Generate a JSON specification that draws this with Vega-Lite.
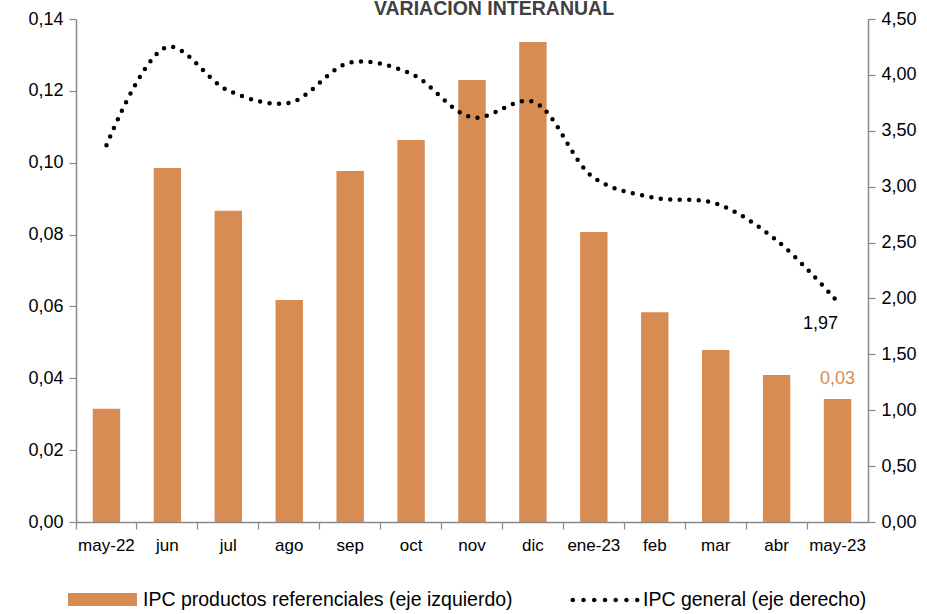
{
  "$schema": "https://vega.github.io/schema/vega-lite/v6.json",
  "autosize": {"type": "none"},
  "padding": {"left": 76, "top": 19, "right": 59, "bottom": 92},
  "width": 792,
  "height": 503,
  "background": "white",
  "config": {
    "view": {"stroke": null},
    "locale": {"number": {"decimal": ",", "thousands": ".", "grouping": [3], "currency": ["", ""]}},
    "font": "Liberation Sans"
  },
  "title": {
    "text": "VARIACION INTERANUAL",
    "font": "Liberation Sans",
    "fontSize": 19.5,
    "fontWeight": "bold",
    "color": "#404040",
    "anchor": "middle",
    "dx": 22,
    "dy": 13,
    "offset": 4
  },
  "data": {
    "values": [
      {"mes": "may-22", "ref": 0.0315, "gen": 3.37},
      {"mes": "jun", "ref": 0.0985, "gen": 4.25},
      {"mes": "jul", "ref": 0.0866, "gen": 3.86},
      {"mes": "ago", "ref": 0.0618, "gen": 3.75},
      {"mes": "sep", "ref": 0.0977, "gen": 4.11},
      {"mes": "oct", "ref": 0.1063, "gen": 4.01},
      {"mes": "nov", "ref": 0.1230, "gen": 3.62},
      {"mes": "dic", "ref": 0.1336, "gen": 3.76},
      {"mes": "ene-23", "ref": 0.0807, "gen": 3.08},
      {"mes": "feb", "ref": 0.0584, "gen": 2.90},
      {"mes": "mar", "ref": 0.0479, "gen": 2.85},
      {"mes": "abr", "ref": 0.0409, "gen": 2.52},
      {"mes": "may-23", "ref": 0.0342, "gen": 1.97}
    ]
  },
  "encoding": {
    "x": {
      "field": "mes",
      "type": "ordinal",
      "sort": null,
      "scale": {"paddingInner": 0.55, "paddingOuter": 0.275},
      "axis": {
        "title": null,
        "labelAngle": 0,
        "labelFontSize": 17,
        "labelColor": "#000000",
        "labelPadding": 8,
        "domainColor": "#898989",
        "domainWidth": 1.5,
        "tickColor": "#898989",
        "tickWidth": 1.2,
        "tickSize": 7,
        "bandPosition": -0.611
      }
    }
  },
  "layer": [
    {
      "mark": {"type": "bar", "color": "#D68C52"},
      "encoding": {
        "y": {
          "field": "ref",
          "type": "quantitative",
          "scale": {"domain": [0, 0.14]},
          "axis": {
            "title": null,
            "orient": "left",
            "format": ".2f",
            "values": [0, 0.02, 0.04, 0.06, 0.08, 0.1, 0.12, 0.14],
            "grid": false,
            "labelFontSize": 18,
            "labelColor": "#000000",
            "labelPadding": 6,
            "domainColor": "#898989",
            "domainWidth": 1.5,
            "tickColor": "#898989",
            "tickWidth": 1.2,
            "tickSize": 7
          }
        },
        "fill": {
          "datum": "IPC productos referenciales (eje izquierdo)",
          "type": "nominal",
          "scale": {"range": ["#D68C52"]},
          "legend": {
            "title": null,
            "orient": "none",
            "legendX": -8,
            "legendY": 546,
            "symbolType": "M-1,-0.19H1V0.19H-1Z",
            "symbolSize": 4761,
            "symbolStrokeWidth": 0,
            "labelFontSize": 19.5,
            "labelLimit": 600,
            "labelColor": "#000000",
            "labelOffset": 6,
            "padding": 0
          }
        }
      }
    },
    {
      "mark": {"type": "line", "interpolate": "catmull-rom", "color": "#000000", "strokeWidth": 4.5, "strokeDash": [0, 9.5], "strokeCap": "round"},
      "encoding": {
        "y": {
          "field": "gen",
          "type": "quantitative",
          "scale": {"domain": [0, 4.5]},
          "axis": {
            "title": null,
            "orient": "right",
            "format": ".2f",
            "values": [0, 0.5, 1, 1.5, 2, 2.5, 3, 3.5, 4, 4.5],
            "grid": false,
            "labelFontSize": 18,
            "labelColor": "#000000",
            "labelPadding": 6,
            "domainColor": "#898989",
            "domainWidth": 1.5,
            "tickColor": "#898989",
            "tickWidth": 1.2,
            "tickSize": 7
          }
        },
        "stroke": {
          "datum": "IPC general (eje derecho)",
          "type": "nominal",
          "scale": {"range": ["#000000"]},
          "legend": {
            "title": null,
            "orient": "none",
            "legendX": 494,
            "legendY": 546,
            "symbolType": "M-0.92,0m-0.065,0a0.065,0.065 0 1,0 0.13,0a0.065,0.065 0 1,0 -0.13,0M-0.613,0m-0.065,0a0.065,0.065 0 1,0 0.13,0a0.065,0.065 0 1,0 -0.13,0M-0.307,0m-0.065,0a0.065,0.065 0 1,0 0.13,0a0.065,0.065 0 1,0 -0.13,0M0,0m-0.065,0a0.065,0.065 0 1,0 0.13,0a0.065,0.065 0 1,0 -0.13,0M0.307,0m-0.065,0a0.065,0.065 0 1,0 0.13,0a0.065,0.065 0 1,0 -0.13,0M0.613,0m-0.065,0a0.065,0.065 0 1,0 0.13,0a0.065,0.065 0 1,0 -0.13,0M0.92,0m-0.065,0a0.065,0.065 0 1,0 0.13,0a0.065,0.065 0 1,0 -0.13,0",
            "symbolSize": 4900,
            "symbolStrokeWidth": 0,
            "symbolFillColor": "#000000",
            "labelFontSize": 19.5,
            "labelLimit": 600,
            "labelColor": "#000000",
            "labelOffset": 3,
            "padding": 0
          }
        }
      }
    },
    {
      "transform": [{"filter": "datum.mes === 'may-23'"}],
      "mark": {"type": "text", "fontSize": 18, "color": "#000000", "dx": -17, "dy": 22},
      "encoding": {
        "y": {"field": "gen", "type": "quantitative", "scale": {"domain": [0, 4.5]}, "axis": null},
        "text": {"field": "gen", "type": "quantitative", "format": ".2f"}
      }
    },
    {
      "transform": [{"filter": "datum.mes === 'may-23'"}],
      "mark": {"type": "text", "fontSize": 18, "color": "#D68C52", "dx": 0, "dy": -20},
      "encoding": {
        "y": {"field": "ref", "type": "quantitative", "scale": {"domain": [0, 0.14]}, "axis": null},
        "text": {"field": "ref", "type": "quantitative", "format": ".2f"}
      }
    }
  ],
  "resolve": {"scale": {"y": "independent", "fill": "independent", "stroke": "independent"}, "legend": {"fill": "independent", "stroke": "independent"}}
}
